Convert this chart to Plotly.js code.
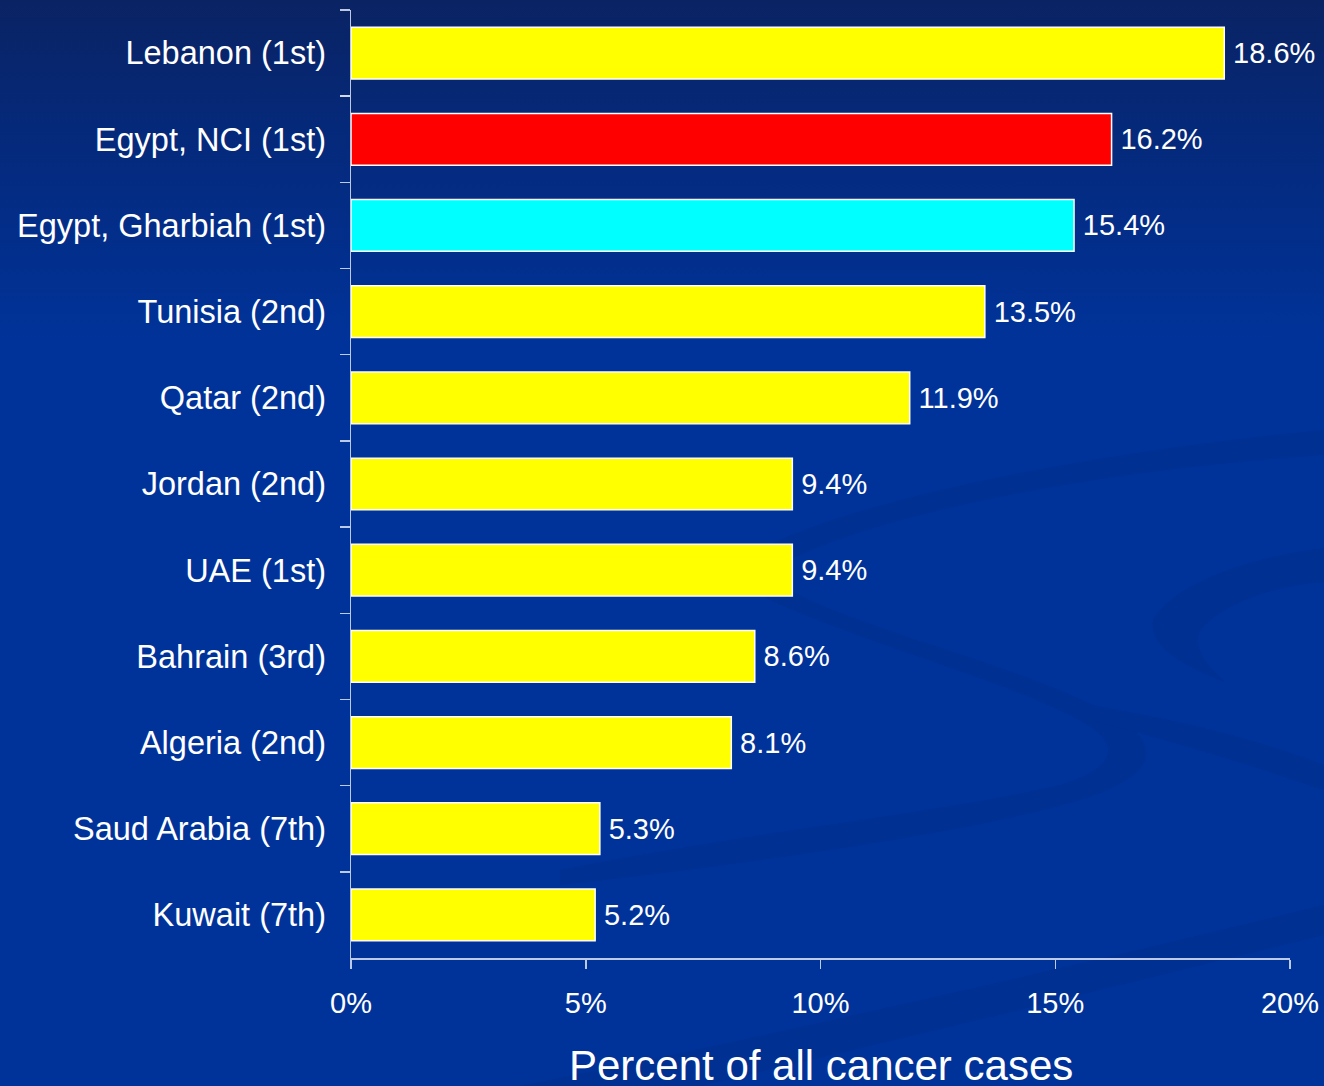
<!DOCTYPE html>
<html>
<head>
<meta charset="utf-8">
<script src="https://cdn.plot.ly/plotly-3.0.1.min.js"></script>
<style>
  html, body { margin: 0; padding: 0; width: 1324px; height: 1086px; overflow: hidden; }
  body { background: linear-gradient(to bottom, #0a2363 0%, #05297a 12%, #00339a 32%, #00339a 100%); position: relative; }
  #deco { position: absolute; left: 0; top: 0; width: 1324px; height: 1086px; z-index: 0; }
  #chart { position: absolute; left: 0; top: 0; width: 1324px; height: 1086px; z-index: 1; }
</style>
</head>
<body>
<svg id="deco" width="1324" height="1086" viewBox="0 0 1324 1086">
  <g fill="#002f8e" opacity="0.7">
    <path d="M1324,430 C1100,450 850,500 760,550 C735,565 740,585 770,600 C880,650 1040,690 1095,730 C1120,750 1110,770 1060,785 C930,815 760,830 560,870 L560,885 C780,860 980,830 1080,800 C1160,775 1160,745 1120,720 C1040,670 860,630 790,590 C770,578 775,565 800,555 C900,510 1100,470 1324,455 Z"/>
    <path d="M1324,548 C1230,560 1170,590 1153,620 C1148,645 1180,665 1225,682 C1200,660 1190,640 1205,625 C1230,600 1280,585 1324,582 Z"/>
    <path d="M1324,905 C1100,960 800,1030 520,1086 L700,1086 C900,1040 1120,985 1324,935 Z"/>
    <path d="M1090,705 C1180,720 1260,740 1324,765 L1324,790 C1250,765 1170,740 1090,720 Z"/>
  </g>
</svg>
<div id="chart"></div>
<script>
const categories = [
  "Lebanon (1st)",
  "Egypt, NCI (1st)",
  "Egypt, Gharbiah (1st)",
  "Tunisia (2nd)",
  "Qatar (2nd)",
  "Jordan (2nd)",
  "UAE (1st)",
  "Bahrain (3rd)",
  "Algeria (2nd)",
  "Saud Arabia (7th)",
  "Kuwait (7th)"
];
const values = [18.6, 16.2, 15.4, 13.5, 11.9, 9.4, 9.4, 8.6, 8.1, 5.3, 5.2];
const valueLabels = ["18.6%", "16.2%", "15.4%", "13.5%", "11.9%", "9.4%", "9.4%", "8.6%", "8.1%", "5.3%", "5.2%"];
const xTickValues = [0, 5, 10, 15, 20];
const xTickLabels = ["0%", "5%", "10%", "15%", "20%"];
const xAxisTitle = "Percent of all cancer cases";
const barColors = ["#ffff00", "#ff0000", "#00ffff", "#ffff00", "#ffff00", "#ffff00", "#ffff00", "#ffff00", "#ffff00", "#ffff00", "#ffff00"];

const FONT = '"Liberation Sans", Arial, sans-serif';
const axisColor = "rgba(210,218,238,0.9)";

const trace = {
  type: "bar",
  orientation: "h",
  x: values,
  y: categories,
  text: valueLabels.map(function (t) { return "\u2009" + t; }),
  textposition: "outside",
  textfont: { family: FONT, size: 29, color: "#ffffff" },
  constraintext: "none",
  cliponaxis: false,
  marker: { color: barColors, line: { color: "#ffffff", width: 1.5 } },
  hoverinfo: "skip"
};

const layout = {
  width: 1324,
  height: 1086,
  margin: { l: 351, r: 34, t: 10, b: 128 },
  paper_bgcolor: "rgba(0,0,0,0)",
  plot_bgcolor: "rgba(0,0,0,0)",
  bargap: 0.4,
  showlegend: false,
  font: { family: FONT, color: "#ffffff" },
  xaxis: {
    range: [0, 20],
    tickvals: xTickValues,
    ticktext: xTickLabels,
    ticks: "outside",
    ticklen: 9,
    tickwidth: 1.5,
    tickcolor: axisColor,
    showline: true,
    linecolor: axisColor,
    linewidth: 1.5,
    showgrid: false,
    zeroline: false,
    tickfont: { family: FONT, size: 29, color: "#ffffff" },
    ticklabelstandoff: 10
  },
  yaxis: {
    autorange: "reversed",
    type: "category",
    tickson: "boundaries",
    ticks: "outside",
    ticklen: 10,
    tickwidth: 1.5,
    tickcolor: axisColor,
    showline: true,
    linecolor: axisColor,
    linewidth: 1.5,
    showgrid: false,
    zeroline: false,
    tickfont: { family: FONT, size: 32.5, color: "#ffffff" },
    ticklabelstandoff: 17
  },
  annotations: [{
    text: xAxisTitle,
    xref: "paper", yref: "paper",
    x: 0.5, y: -0.113,
    xanchor: "center", yanchor: "middle",
    showarrow: false,
    font: { family: FONT, size: 42, color: "#ffffff" }
  }]
};

Plotly.newPlot("chart", [trace], layout, { displayModeBar: false, staticPlot: true });
</script>
</body>
</html>
